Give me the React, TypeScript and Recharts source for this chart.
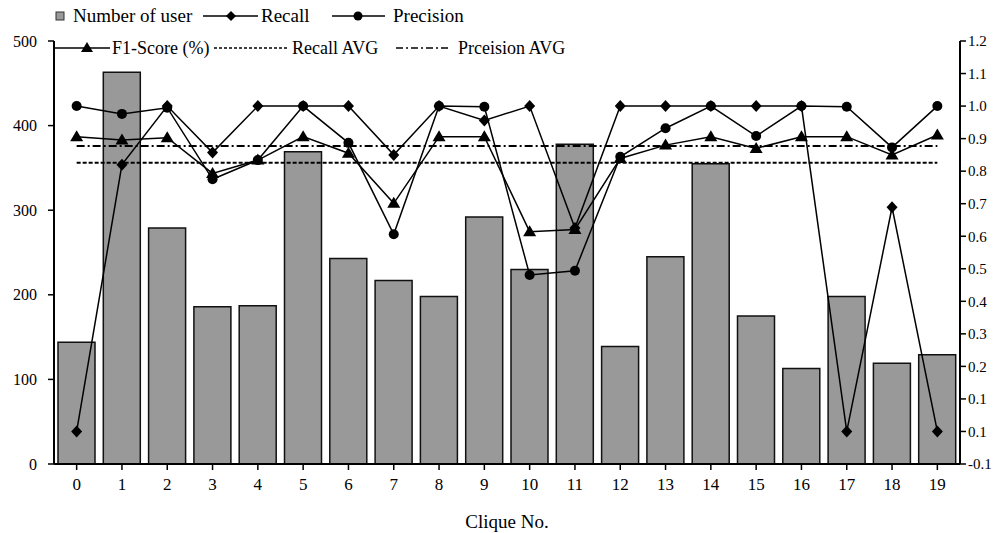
import React from 'react'
import {
  ComposedChart,
  Bar,
  Line,
  XAxis,
  YAxis,
} from 'recharts'

// Clique 별 사용자 수(막대) + Recall / Precision / F1 (오른쪽 축)
const cliques = ['0', '1', '2', '3', '4', '5', '6', '7', '8', '9', '10', '11', '12', '13', '14', '15', '16', '17', '18', '19']
const users = [144, 463, 279, 186, 187, 369, 243, 217, 198, 292, 230, 378, 139, 245, 355, 175, 113, 198, 119, 129]
const recall = [0.0, 0.82, 1.0, 0.857, 1.0, 1.0, 1.0, 0.85, 1.0, 0.956, 1.0, 0.625, 1.0, 1.0, 1.0, 1.0, 1.0, 0.0, 0.689, 0.0]
const precision = [1.0, 0.976, 0.995, 0.775, 0.834, 1.0, 0.887, 0.606, 1.0, 0.998, 0.481, 0.494, 0.844, 0.932, 1.0, 0.908, 1.0, 0.998, 0.873, 1.0]
const f1 = [0.906, 0.896, 0.903, 0.793, 0.834, 0.906, 0.855, 0.701, 0.906, 0.906, 0.614, 0.621, 0.839, 0.88, 0.906, 0.87, 0.906, 0.906, 0.85, 0.911]
const recallAvg = 0.826
const precisionAvg = 0.877

const leftTicks = [0, 100, 200, 300, 400, 500]
const rightTicks = [-0.1, 0, 0.1, 0.2, 0.3, 0.4, 0.5, 0.6, 0.7, 0.8, 0.9, 1.0, 1.1, 1.2]
const rightTickLabels = ['-0.1', '0.1', '0.1', '0.2', '0.3', '0.4', '0.5', '0.6', '0.7', '0.8', '0.9', '1.0', '1.1', '1.2']

const data = cliques.map((c, i) => ({
  clique: c,
  users: users[i],
  recall: recall[i],
  precision: precision[i],
  f1: f1[i],
  recallAvg,
  precisionAvg,
}))

const FONT = '"Liberation Serif", "Times New Roman", serif'

const Diamond = (p: any) => {
  const { cx, cy, index } = p
  if (cx == null || cy == null) return <g key={index} />
  return <path key={index} d={`M${cx},${cy - 6}L${cx + 5.5},${cy}L${cx},${cy + 6}L${cx - 5.5},${cy}Z`} fill="#000" />
}
const Dot = (p: any) => {
  const { cx, cy, index } = p
  if (cx == null || cy == null) return <g key={index} />
  return <circle key={index} cx={cx} cy={cy} r={5} fill="#000" />
}
const Tri = (p: any) => {
  const { cx, cy, index } = p
  if (cx == null || cy == null) return <g key={index} />
  return <path key={index} d={`M${cx},${cy - 6.5}L${cx + 6.5},${cy + 4.5}L${cx - 6.5},${cy + 4.5}Z`} fill="#000" />
}

const LegendBox = () => (
  <svg width={600} height={60} style={{ position: 'absolute', left: 0, top: 0 }}>
    <g fontFamily={FONT} fontSize={19} fill="#000">
      <rect x={56} y={12} width={8} height={8} fill="#999" stroke="#333" strokeWidth={1} />
      <text x={73} y={22}>Number of user</text>

      <line x1={203} y1={16} x2={258} y2={16} stroke="#000" strokeWidth={1.5} />
      <path d="M231,11L236,16L231,21L226,16Z" fill="#000" />
      <text x={261} y={22}>Recall</text>

      <line x1={332} y1={16} x2={385} y2={16} stroke="#000" strokeWidth={1.5} />
      <circle cx={358} cy={16} r={4.5} fill="#000" />
      <text x={393} y={22}>Precision</text>
    </g>
    <g fontFamily={FONT} fontSize={18} fill="#000">
      <line x1={55} y1={48} x2={110} y2={48} stroke="#000" strokeWidth={1.5} />
      <path d="M87,42L93,52L81,52Z" fill="#000" />
      <text x={112} y={54}>F1-Score (%)</text>

      <line x1={214} y1={48} x2={287} y2={48} stroke="#000" strokeWidth={1.5} strokeDasharray="3 2" />
      <text x={292} y={54}>Recall AVG</text>

      <line x1={396} y1={48} x2={451} y2={48} stroke="#000" strokeWidth={1.5} strokeDasharray="7 3 2 3" />
      <text x={458} y={54}>Prceision AVG</text>
    </g>
  </svg>
)

export default function App() {
  return (
    <div style={{ position: 'absolute', left: 0, top: 0, width: 1003, height: 533, background: '#fff' }}>
      <ComposedChart
        width={1003}
        height={533}
        data={data}
        margin={{ top: 41, right: 0, left: 0, bottom: 0 }}
      >
        <XAxis
          dataKey="clique"
          height={69}
          tick={{ fontSize: 17, fill: '#000', fontFamily: FONT }}
          tickSize={6}
          tickMargin={8}
          axisLine={{ stroke: '#000', strokeWidth: 2 }}
          tickLine={{ stroke: '#000', strokeWidth: 1.5 }}
          label={{ value: 'Clique No.', position: 'insideBottom', offset: 5, fontSize: 19, fill: '#000', fontFamily: FONT }}
        />
        <YAxis
          yAxisId="left"
          width={54}
          domain={[0, 500]}
          ticks={leftTicks}
          tick={{ fontSize: 16, fill: '#000', fontFamily: FONT }}
          tickSize={6}
          tickMargin={11}
          axisLine={{ stroke: '#000', strokeWidth: 2 }}
          tickLine={{ stroke: '#000', strokeWidth: 1.5 }}
        />
        <YAxis
          yAxisId="right"
          orientation="right"
          width={43}
          domain={[-0.1, 1.2]}
          ticks={rightTicks}
          interval={0}
          tickFormatter={(_v: number, i: number) => rightTickLabels[i]}
          tick={{ fontSize: 15, fill: '#000', fontFamily: FONT }}
          tickSize={6}
          tickMargin={2}
          axisLine={{ stroke: '#000', strokeWidth: 2 }}
          tickLine={{ stroke: '#000', strokeWidth: 1.5 }}
        />
        <Bar
          yAxisId="left"
          dataKey="users"
          barSize={37}
          fill="#999999"
          stroke="#111"
          strokeWidth={1.5}
          isAnimationActive={false}
        />
        <Line
          yAxisId="right"
          dataKey="recallAvg"
          stroke="#000"
          strokeWidth={2}
          strokeDasharray="4 2"
          dot={false}
          activeDot={false}
          isAnimationActive={false}
        />
        <Line
          yAxisId="right"
          dataKey="precisionAvg"
          stroke="#000"
          strokeWidth={2}
          strokeDasharray="8 3 2 3"
          dot={false}
          activeDot={false}
          isAnimationActive={false}
        />
        <Line
          yAxisId="right"
          dataKey="recall"
          type="linear"
          stroke="#000"
          strokeWidth={1.5}
          dot={Diamond}
          activeDot={false}
          isAnimationActive={false}
        />
        <Line
          yAxisId="right"
          dataKey="precision"
          type="linear"
          stroke="#000"
          strokeWidth={1.5}
          dot={Dot}
          activeDot={false}
          isAnimationActive={false}
        />
        <Line
          yAxisId="right"
          dataKey="f1"
          type="linear"
          stroke="#000"
          strokeWidth={1.5}
          dot={Tri}
          activeDot={false}
          isAnimationActive={false}
        />
      </ComposedChart>
      <LegendBox />
    </div>
  )
}
